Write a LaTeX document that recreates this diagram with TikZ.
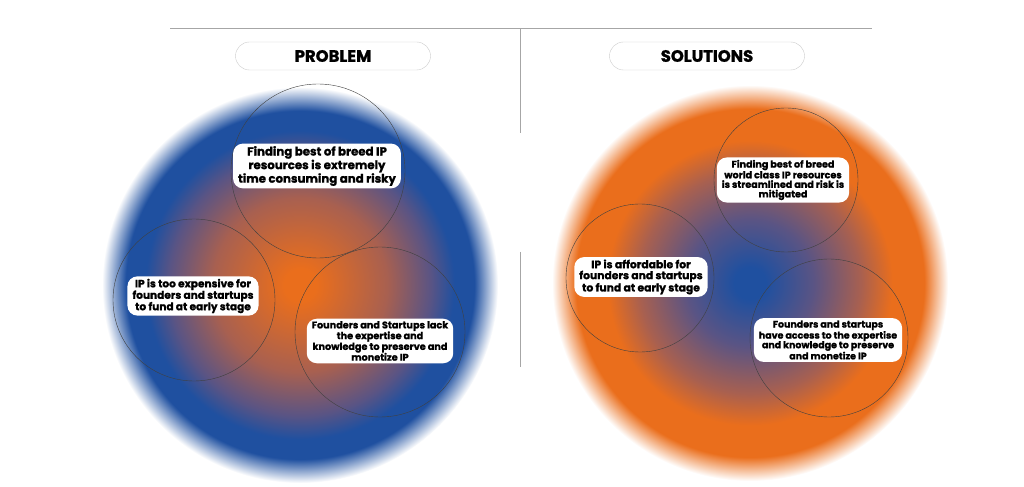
\documentclass[tikz,border=0pt]{standalone}
\usepackage{fontspec}
\setmainfont{Poppins}[BoldFeatures={FakeBold=1.2}]
\usepackage{tikz}
\definecolor{ipblue}{RGB}{31,80,160}
\definecolor{iporange}{RGB}{234,110,28}
\definecolor{ipbrown}{RGB}{168,96,80}
\definecolor{ippurple}{RGB}{90,84,132}
\pgfdeclareradialshading{probglow}{\pgfpoint{0bp}{0bp}}{color(0bp)=(iporange); color(2bp)=(iporange); color(11bp)=(ipbrown); color(16.5bp)=(ippurple); color(19.5bp)=(ipblue); color(22bp)=(ipblue); color(25bp)=(white); color(50bp)=(white)}
\pgfdeclareradialshading{solglow}{\pgfpoint{0bp}{0bp}}{color(0bp)=(ipblue); color(2bp)=(ipblue); color(8bp)=(ippurple); color(14bp)=(ipbrown); color(18bp)=(iporange); color(22bp)=(iporange); color(25bp)=(white); color(50bp)=(white)}
\tikzset{
  pill/.style={draw=black!20, fill=white, rounded corners=14bp, minimum width=195bp, minimum height=28bp, font=\bfseries\fontsize{16.5}{16.5}\selectfont},
  notebox/.style={fill=white, rounded corners=10bp, align=center, inner xsep=5bp, inner ysep=2.5bp},
  ring/.style={draw=black!75, line width=0.4bp}
}
\begin{document}
\begin{tikzpicture}[x=1bp, y=-1bp]
	\useasboundingbox (0,0) rectangle (1024,487);
	\fill[white] (0,0) rectangle (1024,487);
	% glows
	\shade[shading=probglow] (300,285) circle[radius=198bp];
	\shade[shading=solglow] (750,283) circle[radius=198bp];
	% rules
	\draw[black!35, line width=1bp] (170,29) -- (872,29);
	\draw[black!35, line width=1bp] (520,29) -- (520,133);
	\draw[black!35, line width=1bp] (520,252) -- (520,367);
	% thin rings
	\foreach \cx/\cy/\r in {318/171/87, 194/300/81, 380/332/85, 786/180/72, 640/278/74, 829/338/79}
	{\draw[ring] (\cx,\cy) circle[radius=\r bp];}
	% titles
	\node[pill] (problem) at (333,56) {PROBLEM};
	\node[pill] (solutions) at (707,56) {SOLUTIONS};
	% problem notes
	\node[notebox, font=\bfseries\fontsize{11.8}{12.5}\selectfont] (findrisk) at (317,166) {Finding best of breed IP\\resources is extremely\\time consuming and risky};
	\node[notebox, font=\bfseries\fontsize{10.6}{11.5}\selectfont] (costly) at (193,296) {IP is too expensive for\\founders and startups\\to fund at early stage};
	\node[notebox, font=\bfseries\fontsize{9.7}{10.8}\selectfont] (lack) at (380,341) {Founders and Startups lack\\the expertise and\\knowledge to preserve and\\monetize IP};
	% solution notes
	\node[notebox, font=\bfseries\fontsize{9.6}{9.6}\selectfont] (streamlined) at (783,180) {Finding best of breed\\world class IP resources\\is streamlined and risk is\\mitigated};
	\node[notebox, font=\bfseries\fontsize{10.8}{11}\selectfont] (affordable) at (641,277) {IP is affordable for\\founders and startups\\to fund at early stage};
	\node[notebox, font=\bfseries\fontsize{9.5}{9.6}\selectfont] (access) at (828,340) {Founders and startups\\have access to the expertise\\and knowledge to preserve\\and monetize IP};
\end{tikzpicture}
\end{document}
